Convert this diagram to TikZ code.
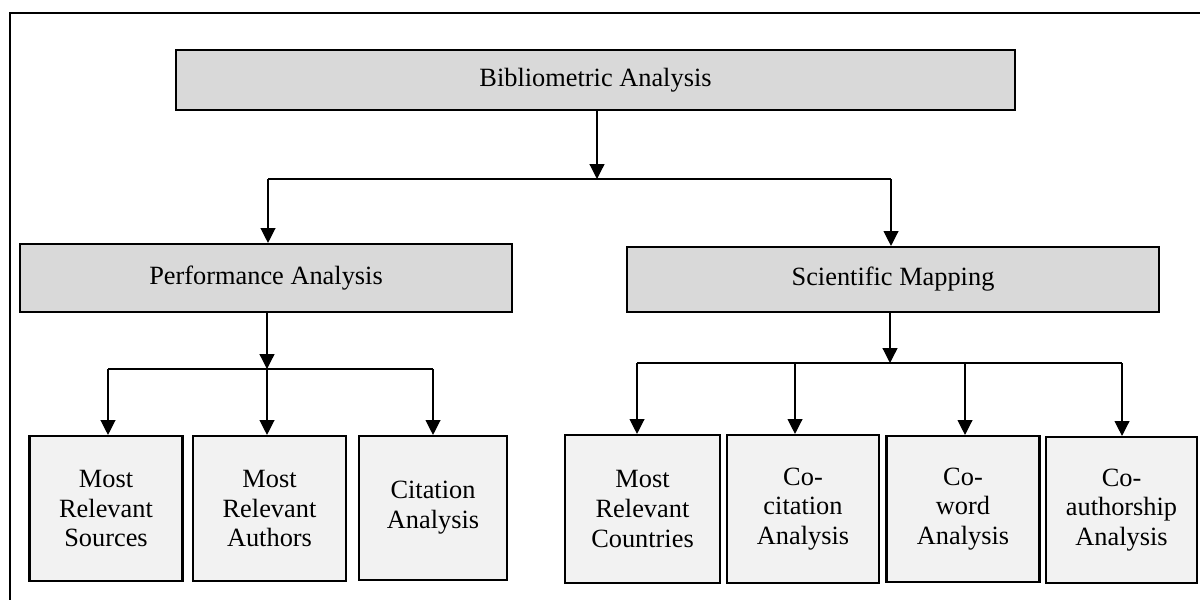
\documentclass[tikz,border=0pt]{standalone}
\usepackage{fontspec}
\setmainfont{Liberation Serif}
\usepackage{xcolor}
\usepackage{tikz}
\usetikzlibrary{arrows.meta,calc}
\definecolor{headgray}{HTML}{D9D9D9}
\definecolor{leafgray}{HTML}{F2F2F2}

\begin{document}
\begin{tikzpicture}[>={Triangle[length=8.5pt,width=8.5pt]},line join=miter,
  box/.style={draw,line width=1.2pt,inner sep=2pt,align=center,font=\fontsize{15}{17}\selectfont},
  head/.style={box,fill=headgray},
  leaf/.style={box,fill=leafgray},
  link/.style={line width=0.7pt}]
  \useasboundingbox (0,0) rectangle (24.000,-11.980);
  \clip (0,0) rectangle (24.000,-11.980);
  \draw[line width=1.1pt] (0.200,-12.300) -- (0.200,-0.260) -- (24.300,-0.260);
  % level 0 and 1
  \node[head,minimum width=16.780cm,minimum height=1.200cm] (BA) at (11.910,-1.600) {Bibliometric Analysis};
  \node[head,minimum width=9.840cm,minimum height=1.360cm] (PA) at (5.320,-5.560) {Performance Analysis};
  \node[head,minimum width=10.640cm,minimum height=1.300cm] (SM) at (17.860,-5.590) {Scientific Mapping};
  % level 2
  \node[leaf,minimum width=3.060cm,minimum height=2.900cm] (MRS) at (2.120,-10.170) {Most\\Relevant\\Sources};
  \node[leaf,minimum width=3.060cm,minimum height=2.900cm] (MRA) at (5.390,-10.170) {Most\\Relevant\\Authors};
  \node[leaf,minimum width=2.960cm,minimum height=2.880cm] (CA) at (8.660,-10.160) {Citation\\Analysis};
  \node[leaf,minimum width=3.100cm,minimum height=2.960cm] (MRC) at (12.850,-10.180) {Most\\Relevant\\Countries};
  \node[leaf,minimum width=3.040cm,minimum height=2.960cm] (CCA) at (16.060,-10.180) {Co-\\citation\\Analysis};
  \node[leaf,minimum width=3.060cm,minimum height=2.920cm] (CWA) at (19.260,-10.180) {Co-\\word\\Analysis};
  \node[leaf,minimum width=3.020cm,minimum height=2.920cm] (COA) at (22.430,-10.200) {Co-\\authorship\\Analysis};
  % split below the top box
  \coordinate (J0) at (11.940,-3.580);
  \coordinate (JL) at (5.360,-3.580);
  \coordinate (JR) at (17.820,-3.580);
  \draw[link,->] (BA.south -| J0) -- (J0);
  \draw[link] (JL) -- (JR);
  \draw[link,->] (JL) -- (JL |- PA.north);
  \draw[link,->] (JR) -- (JR |- SM.north);
  % performance branch
  \coordinate (P0) at (5.340,-7.380);
  \coordinate (P1) at (2.160,-7.380);
  \coordinate (P3) at (8.660,-7.380);
  \draw[link,->] (PA.south -| P0) -- (P0);
  \draw[link] (P1) -- (P3);
  \draw[link,->] (P1) -- (P1 |- MRS.north);
  \draw[link,->] (P0) -- (P0 |- MRA.north);
  \draw[link,->] (P3) -- (P3 |- CA.north);
  % mapping branch
  \coordinate (S0) at (17.800,-7.260);
  \coordinate (S1) at (12.740,-7.260);
  \coordinate (S2) at (15.900,-7.260);
  \coordinate (S3) at (19.300,-7.260);
  \coordinate (S4) at (22.440,-7.260);
  \draw[link,->] (SM.south -| S0) -- (S0);
  \draw[link] (S1) -- (S4);
  \draw[link,->] (S1) -- (S1 |- MRC.north);
  \draw[link,->] (S2) -- (S2 |- CCA.north);
  \draw[link,->] (S3) -- (S3 |- CWA.north);
  \draw[link,->] (S4) -- (S4 |- COA.north);
\end{tikzpicture}
\end{document}
